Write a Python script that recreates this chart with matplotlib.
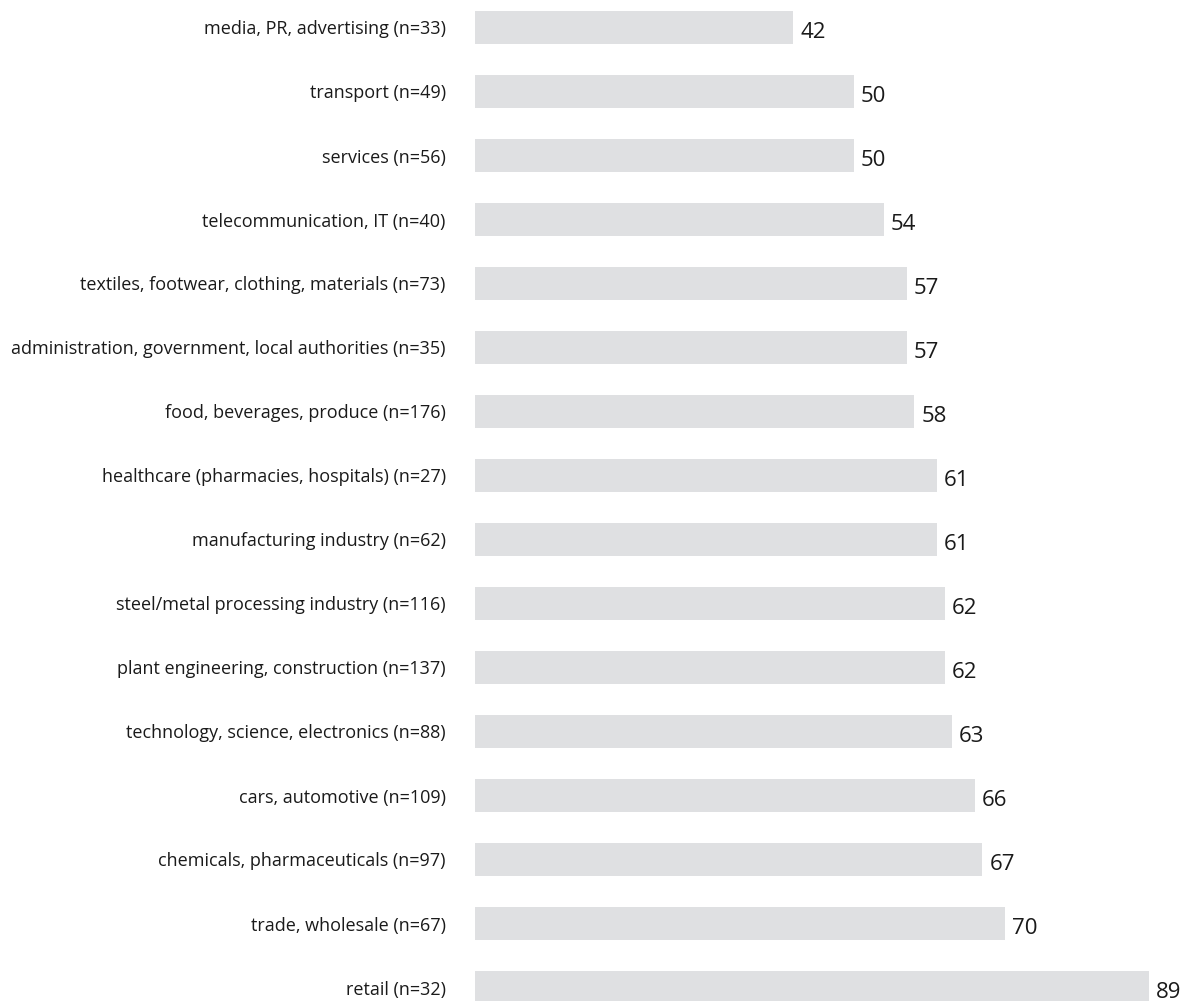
import matplotlib
matplotlib.use("Agg")
import matplotlib.pyplot as plt

# data, top to bottom as in the chart
categories = [
    "media, PR, advertising (n=33)",
    "transport (n=49)",
    "services (n=56)",
    "telecommunication, IT (n=40)",
    "textiles, footwear, clothing, materials (n=73)",
    "administration, government, local authorities (n=35)",
    "food, beverages, produce (n=176)",
    "healthcare (pharmacies, hospitals) (n=27)",
    "manufacturing industry (n=62)",
    "steel/metal processing industry (n=116)",
    "plant engineering, construction (n=137)",
    "technology, science, electronics (n=88)",
    "cars, automotive (n=109)",
    "chemicals, pharmaceuticals (n=97)",
    "trade, wholesale (n=67)",
    "retail (n=32)",
]
values = [42, 50, 50, 54, 57, 57, 58, 61, 61, 62, 62, 63, 66, 67, 70, 89]

plt.rcParams['font.family'] = ['Open Sans', 'DejaVu Sans']

W, H = 1184, 1001
fig = plt.figure(figsize=(W / 100, H / 100), dpi=100)
ax = fig.add_axes([475 / W, 0, 674 / W, 1])

pos = list(range(len(categories)))
ax.barh(pos, values, height=0.516, color="#dfe0e2")

ax.set_xlim(0, 89)
ax.set_ylim((H - 27.5) / 64, -27.5 / 64)
ax.set_yticks(pos)
ax.set_yticklabels(categories, fontsize=13.0, color="#1a1a1a")
ax.tick_params(axis="y", length=0, pad=21)
ax.set_xticks([])
for s in ax.spines.values():
    s.set_visible(False)

# value labels just right of each bar, sitting a bit below centre
for p, v in zip(pos, values):
    ax.annotate(str(v), (v, p), xytext=(5, -3.5), textcoords="offset points",
                ha="left", va="center", fontsize=16, color="#1a1a1a",
                annotation_clip=False)

fig.savefig("out.png", dpi=100)
